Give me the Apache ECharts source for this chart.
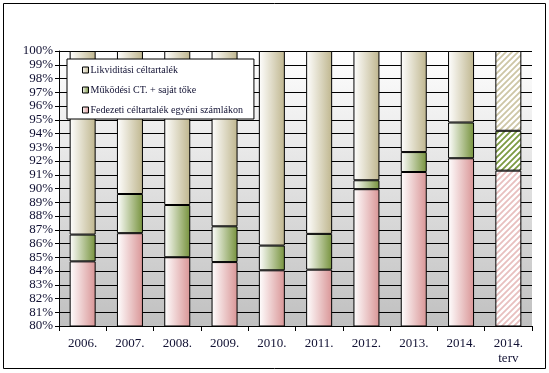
<!DOCTYPE html>
<html>
<head>
<meta charset="utf-8">
<script src="https://cdn.jsdelivr.net/npm/echarts@6/dist/echarts.min.js"></script>
<style>html,body{margin:0;padding:0;background:#fff}#c{width:549px;height:373px}</style>
</head>
<body>
<div id="c"></div>
<script>
var categories = ['2006.', '2007.', '2008.', '2009.', '2010.', '2011.', '2012.', '2013.', '2014.', '2014.\nterv'];
var fedezeti = [84.7, 86.75, 85.0, 84.65, 84.05, 84.1, 89.95, 91.2, 92.2, 91.3];
var mukodesi = [1.95, 2.85, 3.8, 2.6, 1.8, 2.6, 0.65, 1.45, 2.6, 2.9];
var likviditasi = [13.35, 10.4, 11.2, 12.75, 14.15, 13.3, 9.4, 7.35, 5.2, 5.8];
var names = ['Likviditási céltartalék', 'Működési CT. + saját tőke', 'Fedezeti céltartalék egyéni számlákon'];
var yTicks = [80, 81, 82, 83, 84, 85, 86, 87, 88, 89, 90, 91, 92, 93, 94, 95, 96, 97, 98, 99, 100];

var txt = '#111133';
var font = '"Liberation Serif", "Times New Roman", serif';

function grad(c) {
  return new echarts.graphic.LinearGradient(0, 0, 1, 0, [
    {offset: 0, color: '#ffffff'}, {offset: 1, color: c}
  ]);
}
function hatch(c) {
  var s = 6;
  var cv = document.createElement('canvas');
  cv.width = s; cv.height = s;
  var g = cv.getContext('2d');
  g.fillStyle = '#ffffff'; g.fillRect(0, 0, s, s);
  g.strokeStyle = c; g.lineWidth = 1.8;
  g.beginPath();
  g.moveTo(-1, s + 1); g.lineTo(s + 1, -1);
  g.moveTo(-1, 1); g.lineTo(1, -1);
  g.moveTo(s - 1, s + 1); g.lineTo(s + 1, s - 1);
  g.stroke();
  return {image: cv, repeat: 'repeat'};
}

var cols = {pink: '#d99596', green: '#76923c', beige: '#bfb68e'};
var hcols = {pink: '#e8c0bf', green: '#7c9a42', beige: '#cdc6a6'};

function mk(name, arr, key) {
  return {
    name: name,
    type: 'bar',
    stack: 's',
    barWidth: 26,
    itemStyle: {color: grad(cols[key]), borderColor: '#000', borderWidth: 1},
    data: arr.map(function (v, i) {
      if (i === arr.length - 1) {
        return {value: v, itemStyle: {color: hatch(hcols[key]), borderColor: '#000', borderWidth: 1}};
      }
      return v;
    })
  };
}

var chart = echarts.init(document.getElementById('c'), null, {renderer: 'canvas'});
chart.setOption({
  animation: false,
  backgroundColor: '#ffffff',
  grid: {
    left: 59, right: 17, top: 51, bottom: 47,
    show: true,
    borderWidth: 0,
    backgroundColor: new echarts.graphic.LinearGradient(0, 0, 0, 1, [
      {offset: 0, color: '#ffffff'}, {offset: 1, color: '#c0c0c0'}
    ])
  },
  legend: {
    orient: 'vertical',
    left: 67, top: 59,
    data: names,
    backgroundColor: '#ffffff',
    borderColor: '#000',
    borderWidth: 1,
    padding: [4, 11, 2, 15],
    itemWidth: 6, itemHeight: 6,
    itemGap: 6,
    icon: 'rect',
    itemStyle: {borderColor: '#000', borderWidth: 1},
    textStyle: {fontFamily: font, fontSize: 10, color: txt, padding: [0, 0, 0, -3], lineHeight: 14}
  },
  xAxis: {
    type: 'category',
    data: categories,
    axisLine: {lineStyle: {color: '#000', width: 1}},
    axisTick: {show: true, length: 5, lineStyle: {color: '#000'}},
    axisLabel: {fontFamily: font, fontSize: 13, color: txt, margin: 10, lineHeight: 15}
  },
  yAxis: {
    type: 'value',
    min: 80, max: 100, interval: 1,
    axisLine: {show: true, lineStyle: {color: '#000', width: 1}},
    axisTick: {show: true, length: 4, lineStyle: {color: '#000'}},
    splitLine: {show: true, lineStyle: {color: '#000', width: 1}},
    axisLabel: {
      fontFamily: font, fontSize: 13, color: txt, margin: 6,
      formatter: function (v) { return yTicks.indexOf(v) >= 0 ? v + '%' : ''; }
    }
  },
  series: [
    mk(names[2], fedezeti, 'pink'),
    mk(names[1], mukodesi, 'green'),
    mk(names[0], likviditasi, 'beige')
  ],
  graphic: [{
    type: 'rect',
    shape: {x: 3.5, y: 3.5, width: 542, height: 365},
    style: {fill: 'none', stroke: '#000', lineWidth: 1},
    silent: true,
    z: 100
  }]
});
</script>
</body>
</html>
